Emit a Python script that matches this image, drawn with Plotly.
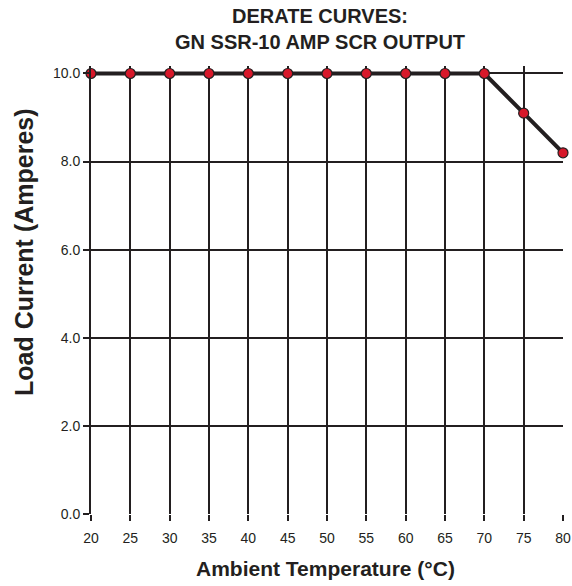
import plotly.graph_objects as go

temps = [20, 25, 30, 35, 40, 45, 50, 55, 60, 65, 70, 75, 80]
current = [10.0, 10.0, 10.0, 10.0, 10.0, 10.0, 10.0, 10.0, 10.0, 10.0, 10.0, 9.1, 8.2]
y_ticks = [0, 2, 4, 6, 8, 10]
y_tick_labels = ["0.0", "2.0", "4.0", "6.0", "8.0", "10.0"]

dark = "#231f20"
sans = "Liberation Sans, Arial, sans-serif"

fig = go.Figure()
fig.add_trace(go.Scatter(
    x=temps, y=current, mode="lines+markers",
    line=dict(color=dark, width=4),
    marker=dict(color="#d7182a", size=10, line=dict(color=dark, width=1.2)),
    cliponaxis=False, showlegend=False,
))

fig.update_layout(
    width=572, height=586,
    margin=dict(l=91, r=9, t=66, b=72, autoexpand=False),
    paper_bgcolor="white", plot_bgcolor="white",
    font=dict(family=sans, color=dark),
    annotations=[
        dict(text="<b>DERATE CURVES:<br>GN SSR-10 AMP SCR OUTPUT</b>",
             xref="paper", yref="paper", x=0.485, y=1.0, yshift=63,
             xanchor="center", yanchor="top", showarrow=False,
             font=dict(size=20, family=sans, color=dark)),
        dict(text="<b>Ambient Temperature (°C)</b>",
             xref="paper", yref="paper", x=0.497, y=0, yshift=-41,
             xanchor="center", yanchor="top", showarrow=False,
             font=dict(size=21, family=sans, color=dark)),
        dict(text="<b>Load Current (Amperes)</b>", textangle=-90,
             xref="paper", yref="paper", x=0, xshift=-67, y=0.5, yshift=38,
             xanchor="center", yanchor="middle", showarrow=False,
             font=dict(size=25, family=sans, color=dark)),
    ],
)
fig.update_xaxes(
    range=[20, 80], tickvals=temps, automargin=False,
    showgrid=True, gridcolor=dark, gridwidth=2,
    showline=False, zeroline=False,
    ticks="outside", ticklen=6, tickwidth=2, tickcolor=dark,
    ticklabelstandoff=5,
    tickfont=dict(family=sans, size=14, color=dark),
)
fig.update_yaxes(
    range=[0, 10.17], tickvals=y_ticks, ticktext=y_tick_labels, automargin=False,
    showgrid=True, gridcolor=dark, gridwidth=2,
    showline=True, linecolor=dark, linewidth=2, zeroline=False,
    ticks="outside", ticklen=6, tickwidth=2, tickcolor=dark,
    tickfont=dict(family=sans, size=14, color=dark),
)

fig.write_html("out.html", config={"displayModeBar": False},
               post_script="document.body.style.margin='0';")
